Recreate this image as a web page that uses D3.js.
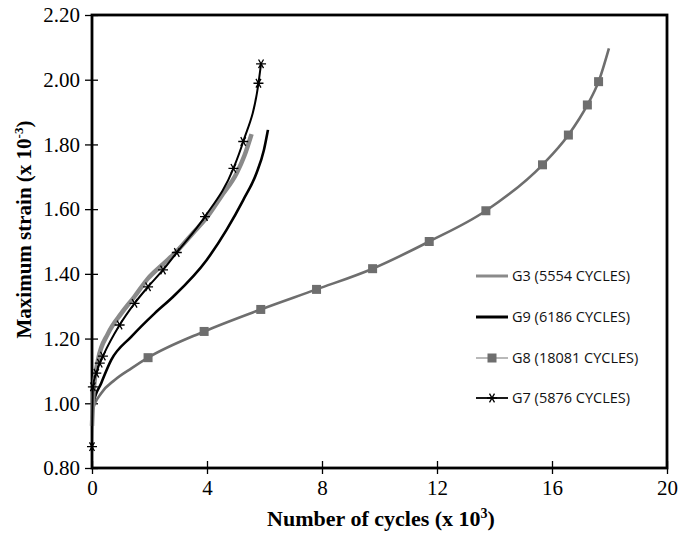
<!DOCTYPE html>
<html>
<head>
<meta charset="utf-8">
<script src="https://cdn.jsdelivr.net/npm/d3@7"></script>
<style>
  body { margin: 0; background: #fff; }
</style>
</head>
<body>
<div class="chart"></div>
<script>
// DATA (x = cycles x 10^3, y = max strain x 10^-3) ----------
const g3 = [[0, 0.93], [0.05, 1.03], [0.21, 1.134], [0.56, 1.216], [1.02, 1.278], [1.48, 1.33],
    [1.95, 1.386], [2.47, 1.43], [2.95, 1.47], [3.5, 1.525], [4.0, 1.575], [4.5, 1.64],
    [5.03, 1.711], [5.3, 1.765], [5.55, 1.832]]
const g9 = [[0, 0.95], [0.05, 1.0], [0.32, 1.062], [0.67, 1.134], [1.37, 1.206], [2.18, 1.278],
    [2.83, 1.33], [3.99, 1.443], [4.68, 1.536], [5.26, 1.628], [5.72, 1.711], [5.98, 1.783], [6.12, 1.845]]
const g8 = [[0, 0.93], [0.03, 0.98], [0.32, 1.031], [0.79, 1.072], [1.37, 1.108], [1.95, 1.141],
    [3.9, 1.222], [5.87, 1.29], [7.81, 1.352], [9.76, 1.416], [11.73, 1.5], [13.7, 1.595],
    [15.67, 1.737], [16.57, 1.829], [17.23, 1.922], [17.62, 1.994], [17.98, 2.097]]
const g8Marks = [[1.95, 1.141], [3.9, 1.222], [5.87, 1.29], [7.81, 1.352], [9.76, 1.416],
    [11.73, 1.5], [13.7, 1.595], [15.67, 1.737], [16.57, 1.829], [17.23, 1.922], [17.62, 1.994]]
const g7 = [[0, 0.866], [0.03, 1.051], [0.15, 1.093], [0.27, 1.124], [0.38, 1.146], [0.96, 1.242],
    [1.48, 1.309], [1.95, 1.36], [2.47, 1.412], [2.95, 1.466], [3.93, 1.577], [4.92, 1.726],
    [5.26, 1.809], [5.79, 1.989], [5.88, 2.049]]

const legendNames = ['G3 (5554 CYCLES)', 'G9 (6186 CYCLES)', 'G8 (18081 CYCLES)', 'G7 (5876 CYCLES)']
const xTicks = [0, 4, 8, 12, 16, 20]
const yTicks = [0.8, 1.0, 1.2, 1.4, 1.6, 1.8, 2.0, 2.2]

const margin = ({ top: 15, right: 26, bottom: 66, left: 92 })
const width = 693 - margin.left - margin.right
const height = 534 - margin.top - margin.bottom

// CHART INIT ------------------------------
const svg = d3.select('.chart')
    .append('svg')
    .attr('width', width + margin.left + margin.right)
    .attr('height', height + margin.top + margin.bottom)
    .append('g')
    .attr('transform', 'translate(' + margin.left + ',' + margin.top + ')')

const xScale = d3.scaleLinear().domain([0, 20]).range([0, width])
const yScale = d3.scaleLinear().domain([0.8, 2.2]).range([height, 0])

// axes: ticks cross the frame line
svg.append('g')
    .attr('transform', 'translate(6,0)')
    .call(d3.axisLeft(yScale).tickValues(yTicks).tickFormat(d3.format('.2f'))
        .tickSize(13).tickSizeOuter(0).tickPadding(5))
svg.append('g')
    .attr('transform', `translate(0,${height - 7})`)
    .call(d3.axisBottom(xScale).tickValues(xTicks).tickFormat(d3.format('d'))
        .tickSize(13).tickSizeOuter(0).tickPadding(6))

svg.selectAll('.domain').remove()
svg.selectAll('.tick line').attr('stroke', '#000').attr('stroke-width', 1.3)
svg.selectAll('.tick text')
    .attr('fill', '#000')
    .style('font-family', '"Liberation Serif", serif')
    .style('font-size', '21px')

// frame
svg.append('rect')
    .attr('width', width)
    .attr('height', height)
    .attr('fill', 'none')
    .attr('stroke', '#000')
    .attr('stroke-width', 2.8)

// axis titles
const xTitle = svg.append('text')
    .attr('x', xScale(10) + 1.5)
    .attr('y', height + 58)
    .attr('text-anchor', 'middle')
    .style('font-family', '"Liberation Serif", serif')
    .style('font-weight', 'bold')
    .style('font-size', '22px')
    .text('Number of cycles (x 10')
xTitle.append('tspan').attr('dy', -8).style('font-size', '14px').text('3')
xTitle.append('tspan').attr('dy', 8).text(')')

const yTitle = svg.append('text')
    .attr('transform', `translate(${-61},${yScale(1.5) - 12}) rotate(-90)`)
    .attr('text-anchor', 'middle')
    .style('font-family', '"Liberation Serif", serif')
    .style('font-weight', 'bold')
    .style('font-size', '21px')
    .text('Maximum strain (x 10')
yTitle.append('tspan').attr('dy', -8).style('font-size', '13px').text('-3')
yTitle.append('tspan').attr('dy', 8).text(')')

// LINES -----------------------------------
const line = d3.line()
    .x(d => xScale(d[0]))
    .y(d => yScale(d[1]))
    .curve(d3.curveMonotoneX)

const series = [
    { data: g8, color: '#6e6e6e', w: 2.6 },
    { data: g9, color: '#000', w: 2.6 },
    { data: g3, color: '#8a8a8a', w: 4.5 },
    { data: g7, color: '#000', w: 2 }
]

svg.selectAll('path.series')
    .data(series)
    .enter()
    .append('path')
    .attr('class', 'series')
    .attr('fill', 'none')
    .attr('stroke', d => d.color)
    .attr('stroke-width', d => d.w)
    .attr('stroke-linejoin', 'round')
    .attr('d', d => line(d.data))

// markers
svg.selectAll('rect.g8')
    .data(g8Marks)
    .enter()
    .append('rect')
    .attr('class', 'g8')
    .attr('x', d => xScale(d[0]) - 4.5)
    .attr('y', d => yScale(d[1]) - 4.5)
    .attr('width', 9)
    .attr('height', 9)
    .attr('fill', '#6e6e6e')

const star = d3.symbol().type(d3.symbolAsterisk).size(70)
svg.selectAll('path.g7')
    .data(g7)
    .enter()
    .append('path')
    .attr('class', 'g7')
    .attr('transform', d => `translate(${xScale(d[0])},${yScale(d[1])}) rotate(90)`)
    .attr('d', star)
    .attr('fill', 'none')
    .attr('stroke', '#000')
    .attr('stroke-width', 1.3)

// LEGEND ----------------------------------
const legendY = [261, 302, 343, 383]
const legend = svg.append('g').attr('transform', 'translate(384,0)')
const items = legend.selectAll('g')
    .data(legendNames)
    .enter()
    .append('g')
    .attr('transform', (d, i) => `translate(0,${legendY[i]})`)

items.append('line')
    .attr('x1', 0).attr('x2', 32)
    .attr('stroke', (d, i) => ['#8a8a8a', '#000', '#8a8a8a', '#000'][i])
    .attr('stroke-width', (d, i) => [3, 3, 1.2, 1.8][i])

items.filter((d, i) => i === 2).append('rect')
    .attr('x', 11.5).attr('y', -4.5).attr('width', 9).attr('height', 9)
    .attr('fill', '#6e6e6e')
items.filter((d, i) => i === 3).append('path')
    .attr('transform', 'translate(16,0) rotate(90)')
    .attr('d', star)
    .attr('fill', 'none')
    .attr('stroke', '#000')
    .attr('stroke-width', 1.3)

items.append('text')
    .attr('x', 36)
    .attr('dy', '0.35em')
    .style('font-family', '"Open Sans", sans-serif')
    .style('font-size', '14.5px')
    .attr('fill', '#111')
    .text(d => d)
</script>
</body>
</html>
